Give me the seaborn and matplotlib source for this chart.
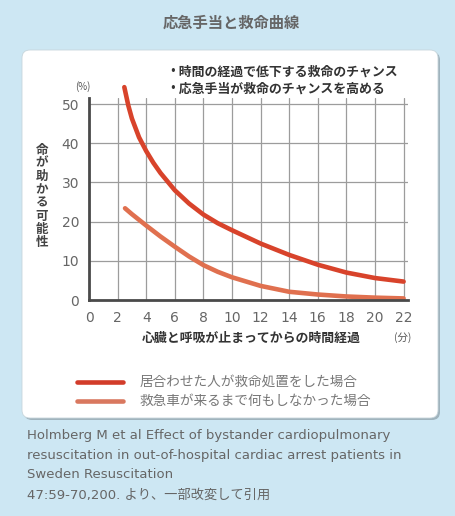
import matplotlib
matplotlib.use('Agg')
import matplotlib.pyplot as plt
import seaborn as sns
import pandas as pd
from matplotlib.patches import FancyBboxPatch
from matplotlib.lines import Line2D
from matplotlib.transforms import IdentityTransform

sns.set_theme(style='white')
plt.rcParams['font.family'] = ['Noto Sans CJK JP', 'DejaVu Sans']

# ---------------- data ----------------
title = '応急手当と救命曲線'
notes = ['・時間の経過で低下する救命のチャンス', '・応急手当が救命のチャンスを高める']
series_names = ['居合わせた人が救命処置をした場合', '救急車が来るまで何もしなかった場合']
upper_x = [2.47, 2.75, 3.0, 3.5, 4, 4.5, 5, 6, 7, 8, 9, 10, 12, 14, 16, 18, 20, 22]
upper_y = [54.3, 49.6, 46.3, 41.5, 38.0, 35.0, 32.4, 28.0, 24.6, 21.8, 19.6, 17.8, 14.4, 11.5, 9.0, 7.0, 5.6, 4.7]
lower_x = [2.52, 3, 4, 5, 6, 7, 8, 9, 10, 12, 14, 16, 18, 20, 22]
lower_y = [23.4, 21.9, 19.0, 16.2, 13.6, 11.1, 8.9, 7.2, 5.8, 3.6, 2.1, 1.4, 0.9, 0.6, 0.4]
x_ticks = [0, 2, 4, 6, 8, 10, 12, 14, 16, 18, 20, 22]
y_ticks = [0, 10, 20, 30, 40, 50]
y_label = '命が助かる可能性'
x_label = '心臓と呼吸が止まってからの時間経過'
x_unit = '(分)'
y_unit = '(%)'
citation = ['Holmberg M et al Effect of bystander cardiopulmonary',
            'resuscitation in out-of-hospital cardiac arrest patients in',
            'Sweden Resuscitation',
            '47:59-70,200. より、一部改変して引用']
line_colors = ['#d8432b', '#e0704f']
legend_colors = ['#d23c2a', '#d9785f']

df = pd.concat([
    pd.DataFrame({'x': upper_x, 'y': upper_y, 'series': series_names[0]}),
    pd.DataFrame({'x': lower_x, 'y': lower_y, 'series': series_names[1]}),
])

W, H = 455, 516
fig = plt.figure(figsize=(W / 100, H / 100), dpi=100)
fig.patch.set_facecolor('#cde7f3')

def px(x, y):
    return x / W, 1 - y / H

latin = ['DejaVu Sans', 'Noto Sans CJK JP']

# panel with shadow
shadow = FancyBboxPatch((24, H - 420), 416, 368, boxstyle='round,pad=0,rounding_size=8',
                        transform=IdentityTransform(), facecolor='#9fb3bd', edgecolor='none', zorder=-2)
panel = FancyBboxPatch((22, H - 418), 416, 368, boxstyle='round,pad=0,rounding_size=8',
                       transform=IdentityTransform(), facecolor='white', edgecolor='#c8d6dc', lw=0.6, zorder=-1)
fig.patches.extend([shadow, panel])

# axes
x0, y0 = 89, 300
sx, sy = 14.3, 3.92
xmax, ymax = 22.3, 51.5
ax = fig.add_axes([x0 / W, 1 - y0 / H, xmax * sx / W, ymax * sy / H])
ax.set_facecolor('none')
ax.set_zorder(2)

sns.lineplot(data=df, x='x', y='y', hue='series', palette=line_colors, lw=3.3,
             legend=False, ax=ax, sort=False)
for ln in ax.lines:
    ln.set_clip_on(False)
    ln.set_solid_capstyle('round')
    ln.set_solid_joinstyle('round')
    ln.set_zorder(3)

ax.set_xlim(0, xmax)
ax.set_ylim(0, ymax)
ax.set_xticks(x_ticks)
ax.set_yticks(y_ticks)
ax.grid(True, color='#9c9c9c', lw=0.9)
ax.set_axisbelow(True)
for s in ['top', 'right']:
    ax.spines[s].set_visible(False)
for s in ['left', 'bottom']:
    ax.spines[s].set_color('#4a4a4a')
    ax.spines[s].set_linewidth(2)
    ax.spines[s].set_zorder(4)
ax.tick_params(length=0, labelsize=10, labelcolor='#666666')
ax.tick_params(axis='x', pad=8)
ax.tick_params(axis='y', pad=7)
for lab in ax.get_xticklabels() + ax.get_yticklabels():
    lab.set_family(latin)
ax.set_xlabel('')
ax.set_ylabel('')

# texts
fig.text(*px(231, 23), title, ha='center', va='center', fontsize=11, color='#666666', fontweight='bold')
fig.text(*px(166, 72), notes[0], ha='left', va='center', fontsize=9.3, color='#333333', fontweight='bold')
fig.text(*px(166, 89), notes[1], ha='left', va='center', fontsize=9.3, color='#333333', fontweight='bold')
fig.text(*px(83, 87), y_unit, ha='center', va='center', fontsize=7, color='#555555')
for i, ch in enumerate(y_label):
    fig.text(*px(42, 150 + i * 13.2), ch, ha='center', va='center', fontsize=9, color='#444444', fontweight='bold')
fig.text(*px(251, 338), x_label, ha='center', va='center', fontsize=9.3, color='#333333', fontweight='bold')
fig.text(*px(403, 338), x_unit, ha='center', va='center', fontsize=7.5, color='#555555')

# legend
for i, (name, c) in enumerate(zip(series_names, legend_colors)):
    yy = 382 + i * 19
    fig.add_artist(Line2D([77 / W, 123 / W], [1 - yy / H, 1 - yy / H], color=c, lw=3.3,
                          transform=fig.transFigure))
    fig.text(*px(140, yy), name, ha='left', va='center', fontsize=9.8, color='#777777')

# citation
for i, line in enumerate(citation):
    fig.text(*px(27, 435 + i * 20), line, ha='left', va='center', fontsize=9.5, color='#666666',
             family=latin)

fig.savefig('out.png', dpi=100, facecolor=fig.get_facecolor())
